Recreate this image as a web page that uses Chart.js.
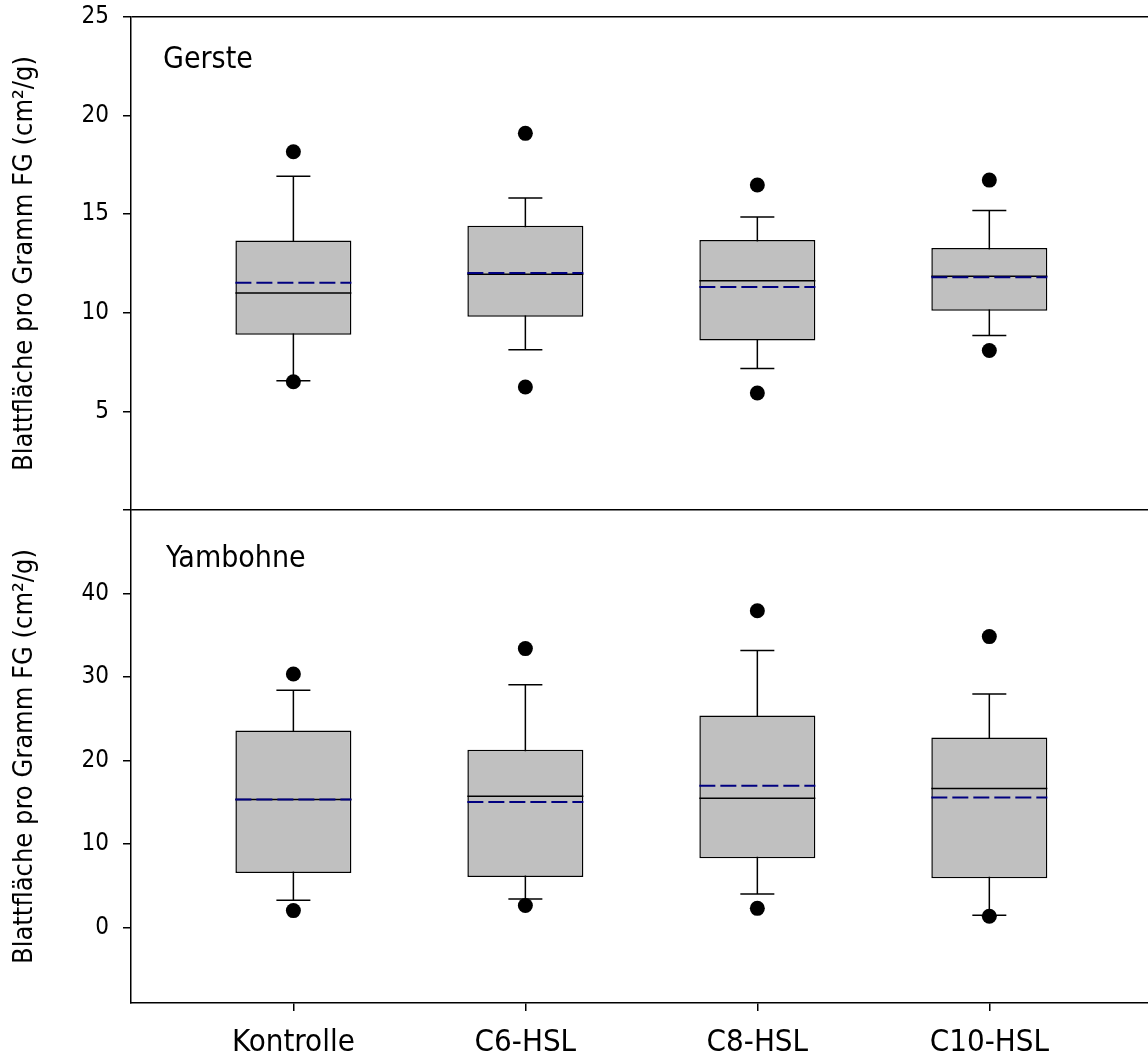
<!DOCTYPE html>
<html lang="de">
<head>
<meta charset="utf-8">
<title>Blattfläche pro Gramm FG</title>
<script src="https://cdn.jsdelivr.net/npm/chart.js@4.4.0/dist/chart.umd.min.js"></script>
<style>
  html, body { margin: 0; padding: 0; background: #fff; }
  #chart { display: block; }
</style>
</head>
<body>
<canvas id="chart" width="1148" height="1059"></canvas>
<script>
// Kategorien (x-Achse)
const categories = ["Kontrolle", "C6-HSL", "C8-HSL", "C10-HSL"];
const panelNames = ["Gerste", "Yambohne"];
const yTitle = "Blattfläche pro Gramm FG (cm²/g)";

// Gerste (oberes Panel)
const gersteWhiskerLow = [6.56, 8.13, 7.17, 8.85];
const gersteQ1 = [8.89, 9.8, 8.6, 10.11];
const gersteMedian = [11.0, 11.95, 11.63, 11.85];
const gersteMean = [11.53, 12.02, 11.31, 11.8];
const gersteQ3 = [13.66, 14.42, 13.69, 13.29];
const gersteWhiskerHigh = [16.92, 15.82, 14.86, 15.19];
const gersteOutLow = [6.5, 6.24, 5.93, 8.09];
const gersteOutHigh = [18.17, 19.1, 16.48, 16.73];

// Yambohne (unteres Panel)
const yamWhiskerLow = [3.29, 3.46, 4.03, 1.5];
const yamQ1 = [6.57, 6.09, 8.33, 5.93];
const yamMedian = [15.34, 15.74, 15.5, 16.66];
const yamMean = [15.34, 15.06, 17.0, 15.58];
const yamQ3 = [23.6, 21.32, 25.42, 22.76];
const yamWhiskerHigh = [28.42, 29.1, 33.19, 27.99];
const yamOutLow = [2.06, 2.66, 2.33, 1.38];
const yamOutHigh = [30.38, 33.41, 37.94, 34.85];

// Achsenticks
const gersteTicks = [0, 5, 10, 15, 20, 25];
const yamTicks = [0, 10, 20, 30, 40];

const FONT = "'DejaVu Sans Condensed', 'DejaVu Sans', sans-serif";

// ein Punkt pro Kategorie
function atCategories(values) {
  return values.map((v, i) => ({ x: i + 1, y: v }));
}

// senkrechte Whisker, null trennt die Kategorien
function whiskerSegments(low, high) {
  const pts = [];
  low.forEach((v, i) => {
    pts.push({ x: i + 1, y: v }, { x: i + 1, y: high[i] }, { x: i + 1, y: null });
  });
  return pts;
}

// alle Datasets für ein Panel
function panelDatasets(axisId, d) {
  return [
    {
      type: "line",
      yAxisID: axisId,
      data: whiskerSegments(d.low, d.high),
      borderColor: "#000",
      borderWidth: 1.5,
      pointRadius: 0,
      spanGaps: false,
      order: 5,
    },
    {
      type: "bar",
      yAxisID: axisId,
      data: d.q1.map((v, i) => ({ x: i + 1, y: [v, d.q3[i]] })),
      backgroundColor: "#c0c0c0",
      borderColor: "#000",
      borderWidth: 1.5,
      borderSkipped: false,
      grouped: false,
      barPercentage: 0.5,
      categoryPercentage: 1,
      order: 4,
    },
    {
      type: "scatter",
      yAxisID: axisId,
      data: atCategories(d.low).concat(atCategories(d.high)),
      pointStyle: "line",
      pointRadius: 17,
      pointBorderColor: "#000",
      pointBorderWidth: 1.5,
      order: 3,
    },
    {
      type: "scatter",
      yAxisID: axisId,
      data: atCategories(d.median),
      pointStyle: "line",
      pointRadius: 58,
      pointBorderColor: "#000",
      pointBorderWidth: 1.5,
      order: 3,
    },
    {
      type: "scatter",
      yAxisID: axisId,
      data: atCategories(d.mean),
      pointStyle: "line",
      pointRadius: 58,
      pointBorderColor: "#000080",
      pointBorderWidth: 2,
      lineDash: [16, 5],
      order: 2,
    },
    {
      type: "scatter",
      yAxisID: axisId,
      data: atCategories(d.outLow).concat(atCategories(d.outHigh)),
      pointStyle: "circle",
      pointRadius: 7.5,
      pointBackgroundColor: "#000",
      pointBorderWidth: 0,
      order: 1,
    },
  ];
}

// gestrichelte Mittelwertlinie
const dashPlugin = {
  id: "dashPlugin",
  beforeDatasetDraw(chart, args) {
    const dash = chart.data.datasets[args.index].lineDash;
    chart.ctx.save();
    if (dash) chart.ctx.setLineDash(dash);
  },
  afterDatasetDraw(chart) {
    chart.ctx.restore();
  },
};

// Panel-Beschriftung "Gerste" / "Yambohne"
const panelLabels = {
  id: "panelLabels",
  afterDraw(chart) {
    const ctx = chart.ctx;
    ctx.save();
    ctx.font = "30px " + FONT;
    ctx.fillStyle = "#000";
    ctx.textBaseline = "alphabetic";
    ctx.fillText(panelNames[0], chart.chartArea.left + 32, chart.scales.yTop.top + 51);
    ctx.fillText(panelNames[1], chart.chartArea.left + 35, chart.scales.yBot.top + 57);
    ctx.restore();
  },
};

function yAxis(min, max, ticks, hideZero, borderLines) {
  return {
    type: "linear",
    position: "left",
    stack: "panels",
    stackWeight: 1,
    stacked: false,
    min: min,
    max: max,
    afterBuildTicks: (axis) => {
      axis.ticks = ticks.map((v) => ({ value: v }));
    },
    afterFit: (axis) => {
      axis.width = 131;
      axis.paddingTop = 0;
      axis.paddingBottom = 0;
    },
    ticks: {
      padding: 14,
      color: "#000",
      font: { family: FONT, size: 24 },
      callback: (v) => (hideZero && v === 0 ? "" : v),
    },
    grid: {
      drawOnChartArea: borderLines,
      drawTicks: true,
      tickLength: 8,
      tickColor: "#000",
      tickWidth: 1.5,
      lineWidth: 1.5,
      color: (ctx) =>
        ctx.tick && (ctx.tick.value === min || ctx.tick.value === max) ? "#000" : "rgba(0,0,0,0)",
    },
    border: { display: true, color: "#000", width: 1.5 },
    title: {
      display: true,
      text: yTitle,
      color: "#000",
      font: { family: FONT, size: 27 },
      padding: { top: 9, bottom: 0 },
    },
  };
}

const datasets = panelDatasets("yTop", {
  low: gersteWhiskerLow, q1: gersteQ1, median: gersteMedian, mean: gersteMean,
  q3: gersteQ3, high: gersteWhiskerHigh, outLow: gersteOutLow, outHigh: gersteOutHigh,
}).concat(
  panelDatasets("yBot", {
    low: yamWhiskerLow, q1: yamQ1, median: yamMedian, mean: yamMean,
    q3: yamQ3, high: yamWhiskerHigh, outLow: yamOutLow, outHigh: yamOutHigh,
  })
);

const ctx = document.getElementById("chart").getContext("2d");
new Chart(ctx, {
  type: "bar",
  data: { datasets },
  plugins: [dashPlugin, panelLabels],
  options: {
    responsive: false,
    animation: false,
    events: [],
    layout: { autoPadding: false, padding: { top: 17, right: 0, bottom: 0, left: 0 } },
    plugins: { legend: { display: false }, tooltip: { enabled: false } },
    scales: {
      x: {
        type: "linear",
        offset: false,
        min: 0.3,
        max: 4.684,
        afterBuildTicks: (axis) => {
          axis.ticks = categories.map((c, i) => ({ value: i + 1 }));
        },
        afterFit: (axis) => {
          axis.height = 56;
          axis.paddingLeft = 0;
          axis.paddingRight = 0;
        },
        ticks: {
          autoSkip: false,
          maxRotation: 0,
          padding: 13,
          color: "#000",
          font: { family: FONT, size: 31 },
          callback: (v) => categories[v - 1] || "",
        },
        grid: {
          offset: false,
          drawOnChartArea: false,
          drawTicks: true,
          tickLength: 8,
          color: "#000",
          lineWidth: 1.5,
        },
        border: { display: true, color: "#000", width: 1.5 },
      },
      yBot: yAxis(-9, 50, yamTicks, false, false),
      yTop: yAxis(0, 25, gersteTicks, true, true),
    },
  },
});
</script>
</body>
</html>
